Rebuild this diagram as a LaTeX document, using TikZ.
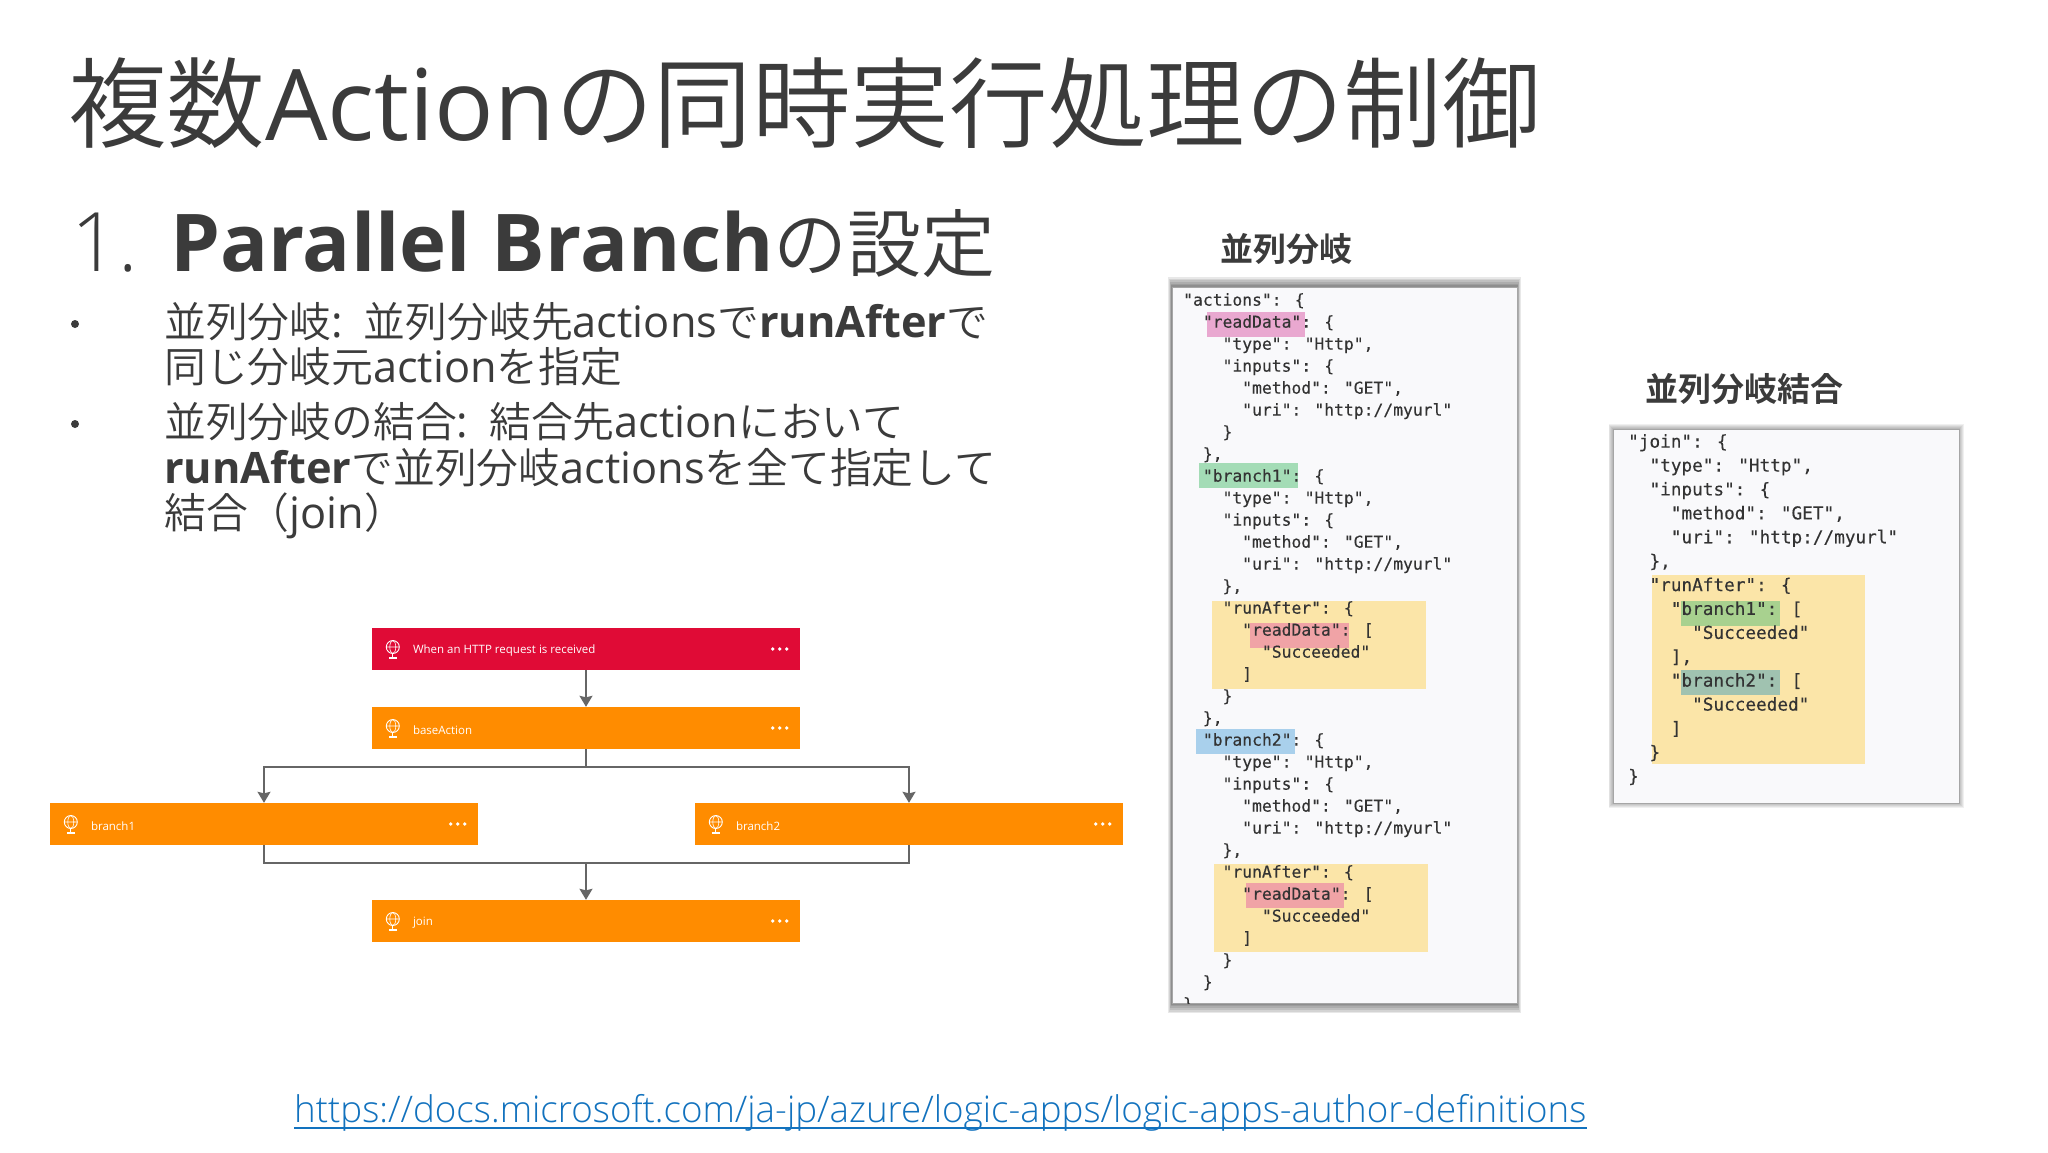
\documentclass[tikz,border=0pt]{standalone}
\usepackage{fontspec}
\usepackage{amsmath}
\setmainfont{Open Sans}
\newfontfamily\jafont[UprightFont=* DemiLight, BoldFont=* Bold]{Noto Sans CJK JP}
\newfontfamily\thinfont{Open Sans Light}
\newfontfamily\codefont[FakeBold=0.25]{DejaVu Sans Mono}
\usetikzlibrary{arrows.meta, calc}
\newcommand{\sz}[1]{\fontsize{#1}{#1}\selectfont}
\newcommand{\ja}[1]{{\jafont #1}}
\newcommand{\jl}[1]{{\jafont\sz{41.8}#1}}
\newcommand{\ind}[1]{\hspace*{#1\dimexpr 0.602em\relax}}
\definecolor{textgray}{HTML}{3B3B3B}
\definecolor{flowred}{HTML}{E00B36}
\definecolor{floworange}{HTML}{FF8C00}
\definecolor{flowline}{HTML}{666666}
\definecolor{paneledge}{HTML}{A6A6A6}
\definecolor{panelfill}{HTML}{F9F9FB}
\definecolor{markyellow}{HTML}{FBE5A8}
\definecolor{markpink}{HTML}{E9A8D0}
\definecolor{markgreen}{HTML}{A4DCB6}
\definecolor{markred}{HTML}{F0A3A6}
\definecolor{markblue}{HTML}{A9D0EC}
\definecolor{markleaf}{HTML}{A8D18F}
\definecolor{markteal}{HTML}{A0C2B0}
\definecolor{linkblue}{HTML}{1272BE}
\tikzset{
  slidetext/.style={anchor=base west, inner sep=0, text=textgray},
  flowbox/.style={minimum width=428, minimum height=42, inner sep=0},
  flowlabel/.style={anchor=west, inner sep=0, text=white, font=\sz{11.5}},
  flowline/.style={draw=flowline, line width=1.8pt},
  flowarrow/.style={flowline, -{Stealth[length=11pt, width=13pt, inset=1.5pt]}},
  codetext/.style={anchor=north west, inner sep=0, align=left, text=black!80},
  flowtrim/.pic={
    \draw[white, line width=0.9pt] (21,-2) circle (6.5);
    \draw[white, line width=0.6pt] (21,-2) ellipse (3 and 6.5) (14.5,-2) -- (27.5,-2);
    \draw[white, line width=1.1pt] (21,4.5) -- (21,9) (17,9) -- (25,9);
    \foreach \d in {401,408,415} \fill[white] (\d,0) circle (1.9);
  },
}
\begin{document}
\begin{tikzpicture}[x=1pt, y=-1pt]
  \useasboundingbox[fill=white] (0,0) rectangle (2048,1152);
  % slide texts
  \node[slidetext, font=\sz{98.8}] (title) at (68,140) {{\jafont\sz{98.6}複数}Action{\jafont\sz{98.6}の同時実行処理の制御}};
  \node[slidetext, font=\thinfont\sz{82}] (numone) at (71,271) {1.};
  \node[slidetext, font=\sz{74}] (heading) at (170,271) {\textbf{\sz{79.7}Parallel Branch}\ja{の設定}};
  \fill[textgray] (75,324) circle (4) (75,424) circle (4);
  \node[slidetext, font=\sz{43.3}] (lineone) at (164,337) {\jl{並列分岐}:\hspace*{21pt}\jl{並列分岐先}actions\jl{で}\textbf{runAfter}\jl{で}};
  \node[slidetext, font=\sz{43.3}] (linetwo) at (164,382) {\jl{同じ分岐元}action\jl{を指定}};
  \node[slidetext, font=\sz{43.3}] (linethree) at (164,437.5) {\jl{並列分岐の結合}:\hspace*{21pt}\jl{結合先}action\jl{において}};
  \node[slidetext, font=\sz{43.3}] (linefour) at (164,483) {\textbf{runAfter}\jl{で並列分岐}actions\jl{を全て指定して}};
  \node[slidetext, font=\sz{43.3}] (linefive) at (164,528.5) {\jl{結合（}join\jl{）}};
  % flow boxes
  \node[flowbox, fill=flowred] (trigger) at (586,649) {};
  \node[flowbox, fill=floworange] (baseaction) at (586,728) {};
  \node[flowbox, fill=floworange] (branchone) at (264,824) {};
  \node[flowbox, fill=floworange] (branchtwo) at (909,824) {};
  \node[flowbox, fill=floworange] (join) at (586,921) {};
  \pic at (trigger.west) {flowtrim};
  \pic at (baseaction.west) {flowtrim};
  \pic at (branchone.west) {flowtrim};
  \pic at (branchtwo.west) {flowtrim};
  \pic at (join.west) {flowtrim};
  \node[flowlabel] (triggerlabel) at ($(trigger.west)+(41,2)$) {When an HTTP request is received};
  \node[flowlabel] (baselabel) at ($(baseaction.west)+(41,2)$) {baseAction};
  \node[flowlabel] (onelabel) at ($(branchone.west)+(41,2)$) {branch1};
  \node[flowlabel] (twolabel) at ($(branchtwo.west)+(41,2)$) {branch2};
  \node[flowlabel] (joinlabel) at ($(join.west)+(41,2)$) {join};
  % connectors
  \coordinate (splitrow) at (586,767);
  \coordinate (mergerow) at (586,863);
  \draw[flowarrow] (trigger) -- (baseaction);
  \draw[flowline] (baseaction) -- (splitrow);
  \draw[flowarrow] (splitrow) -| (branchone);
  \draw[flowarrow] (splitrow) -| (branchtwo);
  \draw[flowline] (branchone) |- (mergerow);
  \draw[flowline] (branchtwo) |- (mergerow);
  \draw[flowarrow] (mergerow) -- (join);
  % left code panel
  \node[slidetext, font=\sz{33}] (actionshead) at (1220,261) {\ja{\textbf{並列分岐}}};
  \foreach \g in {1,...,6}
    \fill[black, opacity=.09] (1172-.6*\g,287-1.7*\g) rectangle (1517+.6*\g,1003+1.7*\g);
  \filldraw[fill=panelfill, draw=paneledge, line width=1pt] (1172,287) rectangle (1517,1003);
  \fill[markpink] (1207,312) rectangle (1305,337);
  \fill[markgreen] (1199,463) rectangle (1298,488);
  \fill[markyellow] (1212,601) rectangle (1426,689);
  \fill[markred] (1250,623) rectangle (1349,648);
  \fill[markblue] (1196,729) rectangle (1295,754);
  \fill[markyellow] (1214,864) rectangle (1428,952);
  \fill[markred] (1246,883) rectangle (1344,908);
  \begin{scope}
    \clip (1172,287) rectangle (1517,1003);
    \node[codetext, font=\codefont\fontsize{16.35}{22}\selectfont] (actionscode) at (1183,293) {
      "actions": \{\\
      \ind{2}"readData": \{\\
      \ind{4}"type": "Http",\\
      \ind{4}"inputs": \{\\
      \ind{6}"method": "GET",\\
      \ind{6}"uri": "http://myurl"\\
      \ind{4}\}\\
      \ind{2}\},\\
      \ind{2}"branch1": \{\\
      \ind{4}"type": "Http",\\
      \ind{4}"inputs": \{\\
      \ind{6}"method": "GET",\\
      \ind{6}"uri": "http://myurl"\\
      \ind{4}\},\\
      \ind{4}"runAfter": \{\\
      \ind{6}"readData": [\\
      \ind{8}"Succeeded"\\
      \ind{6}]\\
      \ind{4}\}\\
      \ind{2}\},\\
      \ind{2}"branch2": \{\\
      \ind{4}"type": "Http",\\
      \ind{4}"inputs": \{\\
      \ind{6}"method": "GET",\\
      \ind{6}"uri": "http://myurl"\\
      \ind{4}\},\\
      \ind{4}"runAfter": \{\\
      \ind{6}"readData": [\\
      \ind{8}"Succeeded"\\
      \ind{6}]\\
      \ind{4}\}\\
      \ind{2}\}\\
      \}
    };
  \end{scope}
  % right code panel
  \node[slidetext, font=\sz{33}] (joinhead) at (1645,401) {\ja{\textbf{並列分岐結合}}};
  \foreach \g in {1,...,5}
    \fill[black, opacity=.06] (1613-.9*\g,429-\g) rectangle (1959+.9*\g,803+\g);
  \filldraw[fill=panelfill, draw=paneledge, line width=1pt] (1613,429) rectangle (1959,803);
  \fill[markyellow] (1652,575) rectangle (1865,764);
  \fill[markleaf] (1681,601) rectangle (1780,626);
  \fill[markteal] (1681,670) rectangle (1780,695);
  \node[codetext, font=\codefont\fontsize{17.7}{23.9}\selectfont] (joincode) at (1628,434) {
    "join": \{\\
    \ind{2}"type": "Http",\\
    \ind{2}"inputs": \{\\
    \ind{4}"method": "GET",\\
    \ind{4}"uri": "http://myurl"\\
    \ind{2}\},\\
    \ind{2}"runAfter": \{\\
    \ind{4}"branch1": [\\
    \ind{6}"Succeeded"\\
    \ind{4}],\\
    \ind{4}"branch2": [\\
    \ind{6}"Succeeded"\\
    \ind{4}]\\
    \ind{2}\}\\
    \}
  };
  % link
  \node[slidetext, text=linkblue, font=\thinfont\sz{36.7}] (doclink) at (294,1122) {https://docs.microsoft.com/ja-jp/azure/logic-apps/logic-apps-author-definitions};
  \draw[linkblue, line width=2pt] ($(doclink.base west)+(0,5.5)$) -- ($(doclink.base east)+(0,5.5)$);
\end{tikzpicture}
\end{document}
